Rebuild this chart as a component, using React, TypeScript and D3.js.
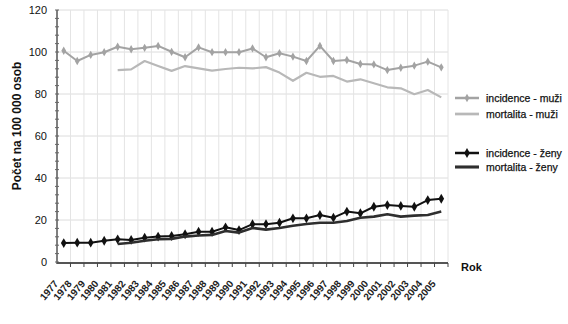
import React from "react";
import * as d3 from "d3";

const years = d3.range(1977, 2006).map(String);
const incidenceMuzi = [100.6, 95.7, 98.6, 99.9, 102.5, 101.3, 102, 102.9, 100.1, 97.5, 102.2, 99.9, 99.9, 99.9, 101.7, 97.5, 99.4, 97.8, 95.7, 102.9, 95.7, 96.2, 94.3, 94.1, 91.4, 92.5, 93.5, 95.4, 92.7];
const mortalitaMuzi: (number | null)[] = [null, null, null, null, 91.4, 91.7, 95.7, 93.3, 91, 93.3, 92.2, 91.1, 91.9, 92.5, 92.2, 92.8, 90.2, 86.3, 90.1, 88.2, 88.6, 85.9, 87, 85.1, 83.2, 82.7, 79.9, 81.9, 78.4];
const incidenceZeny = [9, 9.2, 9.2, 10.1, 10.8, 10.5, 11.6, 12.1, 12.4, 13.2, 14.4, 14.4, 16.5, 15.2, 18, 18, 18.7, 20.8, 20.8, 22.4, 21.1, 24, 23.2, 26.3, 27.1, 26.7, 26.3, 29.5, 30.1];
const mortalitaZeny: (number | null)[] = [null, null, null, null, 8.6, 9.2, 10.1, 10.8, 11, 12.1, 12.6, 12.9, 14.8, 14, 16.2, 15.4, 16.2, 17.3, 18.1, 18.7, 18.7, 19.5, 21.1, 21.6, 22.7, 21.6, 22.1, 22.4, 24];
const yTicks = [0, 20, 40, 60, 80, 100, 120];
const legendLabels = ["incidence - muži", "mortalita - muži", "incidence - ženy", "mortalita - ženy"];
const yTitle = "Počet na 100 000 osob";
const xTitle = "Rok";

const W = 568, H = 324;
const left = 57, right = 448, top = 10, bottom = 262;
const FONT = "'Liberation Sans', Arial, sans-serif";

export default function App() {
  const x = d3.scaleBand<string>().domain(years).range([left, right]).padding(0);
  const y = d3.scaleLinear().domain([0, 120]).range([bottom, top]);
  const cx = (i: number) => (x(years[i]) as number) + x.bandwidth() / 2;
  const line = d3
    .line<number | null>()
    .defined((d) => d !== null)
    .x((_, i) => cx(i))
    .y((d) => y(d as number));
  const minor = d3.range(0, 121, 4);
  const diamond = d3.symbol(d3.symbolDiamond, 20)();
  const diamondBig = d3.symbol(d3.symbolDiamond, 28)();

  const series = [
    { data: incidenceMuzi, color: "#a3a3a3", width: 2, marker: diamond, legendY: 98 },
    { data: mortalitaMuzi, color: "#b8b8b8", width: 2.2, marker: null, legendY: 114 },
    { data: incidenceZeny, color: "#111111", width: 2, marker: diamondBig, legendY: 153 },
    { data: mortalitaZeny, color: "#2e2e2e", width: 2.6, marker: null, legendY: 167 },
  ];

  return (
    <svg width={W} height={H} style={{ position: "absolute", left: 0, top: 0, background: "#fff" }} fontFamily={FONT}>
      {/* grid */}
      {yTicks.filter((t) => t > 0).map((t) => (
        <line key={"gy" + t} x1={left} x2={right} y1={y(t)} y2={y(t)} stroke="#dcdcdc" strokeWidth={1} />
      ))}
      {years.map((yr) => (
        <line key={"gx" + yr} x1={(x(yr) as number) + x.bandwidth()} x2={(x(yr) as number) + x.bandwidth()} y1={top} y2={bottom} stroke="#e4e4e4" strokeWidth={1} />
      ))}
      {/* y axis */}
      <line x1={left} x2={left} y1={top} y2={bottom + 2} stroke="#555" strokeWidth={1.5} />
      {minor.map((t) => (
        <line key={"mt" + t} x1={left - 2} x2={left + 2} y1={y(t)} y2={y(t)} stroke="#666" strokeWidth={1} />
      ))}
      {yTicks.map((t) => (
        <text key={"yl" + t} x={47} y={y(t)} dy="0.35em" textAnchor="end" fontSize={11} fill="#111">
          {t}
        </text>
      ))}
      {/* x axis */}
      <line x1={left} x2={right} y1={bottom + 1} y2={bottom + 1} stroke="#555" strokeWidth={2} />
      {years.map((yr) => (
        <line key={"xt" + yr} x1={(x(yr) as number) + x.bandwidth()} x2={(x(yr) as number) + x.bandwidth()} y1={bottom + 1} y2={bottom + 5} stroke="#444" strokeWidth={1} />
      ))}
      {years.map((yr, i) => (
        <text key={"xl" + yr} transform={`translate(${cx(i) - 5},${bottom + 22}) rotate(-50)`} textAnchor="end" fontSize={10} fontWeight="bold" fill="#222">
          {yr}
        </text>
      ))}
      <text x={461} y={271} fontSize={11} fontWeight="bold" fill="#111">{xTitle}</text>
      <text transform={`translate(21,126) rotate(-90)`} textAnchor="middle" fontSize={12} fontWeight="bold" fill="#111">
        {yTitle}
      </text>
      {/* lines */}
      {series.map((s, si) => (
        <g key={"s" + si}>
          <path d={line(s.data) as string} fill="none" stroke={s.color} strokeWidth={s.width} strokeLinejoin="round" />
          {s.marker &&
            s.data.map((d, i) =>
              d === null ? null : (
                <path key={i} d={s.marker as string} transform={`translate(${cx(i)},${y(d)})`} fill={s.color} />
              )
            )}
        </g>
      ))}
      {/* legend */}
      {series.map((s, si) => (
        <g key={"lg" + si}>
          <line x1={455} x2={479} y1={s.legendY} y2={s.legendY} stroke={s.color} strokeWidth={s.width + 0.5} />
          {s.marker && <path d={s.marker} transform={`translate(467,${s.legendY})`} fill={s.color} />}
          <text x={486} y={s.legendY} dy="0.35em" fontSize={10.5} fill="#111" stroke="#111" strokeWidth={0.25}>
            {legendLabels[si]}
          </text>
        </g>
      ))}
    </svg>
  );
}
